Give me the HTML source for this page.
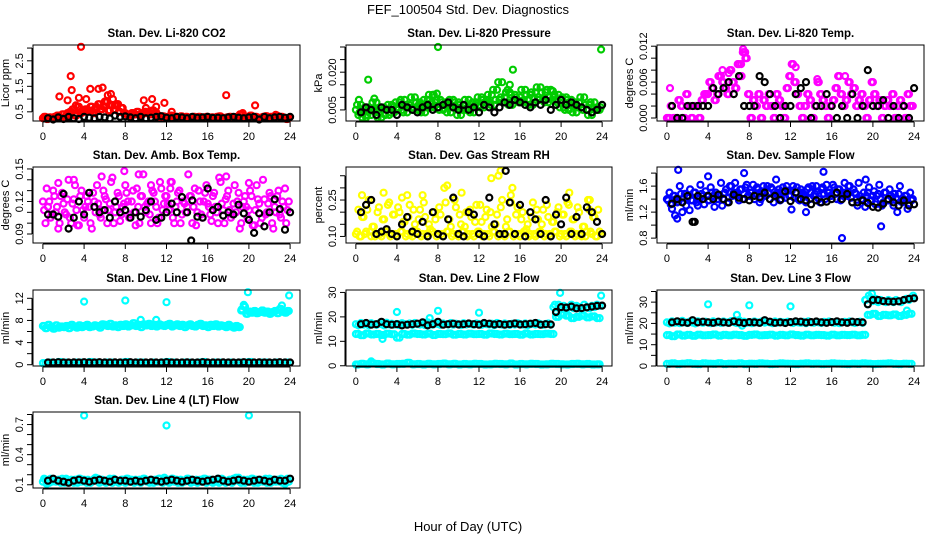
<!DOCTYPE html>
<html><head><meta charset="utf-8">
<style>
html,body{margin:0;padding:0;background:#fff;}
svg{display:block;font-family:"Liberation Sans",sans-serif;}
</style></head>
<body>
<svg id="chart" width="936" height="540" viewBox="0 0 936 540">
<text x="468" y="14" font-size="13" text-anchor="middle">FEF_100504  Std. Dev. Diagnostics</text>
<text x="468" y="531" font-size="13" text-anchor="middle">Hour of Day (UTC)</text>
</svg>
<script>
// ---- data ----
const xTicks = [0,4,8,12,16,20,24];
const co2Red = [0.25,0.3,0.22,0.28,0.26,0.3,0.35,0.28,0.4,0.3,0.45,0.5,0.6,0.35,0.7,0.45,0.5,0.6,0.55,0.7,0.45,0.65,0.8,0.6,0.7,0.9,0.55,0.75,0.6,0.8,0.5,0.65,0.45,0.4,0.35,0.45,0.4,0.5,0.38,0.42,0.5,0.45,0.4,0.55,0.48,0.35,0.3,0.32,0.28,0.3,0.35,0.25,0.3,0.28,0.32,0.26,0.3,0.25,0.28,0.3,0.27,0.3,0.26,0.28,0.3,0.25,0.28,0.26,0.3,0.32,0.27,0.25,0.28,0.3,0.26,0.29,0.31,0.4,0.28,0.3,0.26,0.35,0.28,0.3,0.25,0.27,0.3,0.33,0.28,0.3,0.26,0.35,0.28,0.3,0.25,0.22];
const co2OutHours = [1.6,2.4,2.7,2.8,3.2,3.5,3.7,4.2,4.6,5.4,5.8,6.3,6.6,6.8,7.3,9.8,10.0,10.6,11.0,11.8,12.5,17.8,19.4,20.6,22.6,5.0,5.2,6.0,7.0,4.8];
const co2OutVals = [1.1,0.95,1.9,1.35,0.75,1.05,3.05,1.0,1.4,1.4,1.45,1.15,1.2,1.0,0.8,0.95,0.65,1.0,0.7,0.85,0.5,1.15,0.45,0.75,0.38,0.6,0.7,0.9,0.75,0.55];
const co2Black = [0.25,0.2,0.28,0.22,0.3,0.25,0.22,0.3,0.27,0.25,0.3,0.28,0.24,0.35,0.3,0.32,0.28,0.25,0.3,0.25,0.27,0.3,0.33,0.27,0.25,0.3,0.28,0.25,0.3,0.27,0.28,0.3,0.26,0.27,0.25,0.28,0.3,0.27,0.25,0.28,0.3,0.2,0.3,0.25,0.28,0.3,0.27,0.3];

const pressPa = [5,3,7,4,2,6,3,5,8,4,2,6,5,3,7,4,6,8,5,9,4,7,6,10,5,8,7,4,9,6,11,8,6,9,5,8,7,4,9,6,8,3,7,5,9,6,4,8,7,10,6,9,8,11,7,13,9,16,10,8,12,7,11,9,10,8,13,9,11,7,12,10,14,9,12,8,13,10,9,11,8,6,10,5,9,7,4,8,6,10,5,7,3,8,6,5];
const pressOutHours = [1.2,8.0,15.3,23.9,15.0,0.3,1.8,7.6,7.9,14.8,18.5,19.2];
const pressOutPa = [17,30,21,29,15,9,9.5,11,11.5,13,12,12.5];
const pressBlackPa = [4,6,5,3,6,5,5,3,7,6,5,4,6,7,5,6,7,8,6,5,7,5,6,4,7,6,4,6,8,7,9,8,7,6,8,7,9,5,7,9,7,8,7,6,5,4,5,7];

const tempMilli = [0,0,2,0,0,3,2,0,4,2,0,2,2,0,3,4,4,6,5,3,4,7,6,5,4,8,6,5,9,7,11,10,4,0,3,2,4,0,3,2,4,2,0,4,3,2,0,5,7,9,6,4,2,0,2,4,3,0,2,6,4,3,2,0,2,3,5,7,4,2,3,6,4,5,2,3,4,2,0,3,6,4,2,3,0,2,3,2,4,0,2,3,2,0,4,2];
const tempOutHours = [0.3,5.4,7.4,7.6,12.5,17.3,14.6,5.0,6.0,7.2];
const tempOutMilli = [5,8,11.5,11,8.5,7,6.5,7,7.5,9];
const tempBlackMilli = [2,0,0,2,2,2,2,2,5,4,5,6,4,7,2,2,2,7,6,4,2,0,2,2,4,5,6,0,2,2,4,2,0,2,0,4,0,2,8,2,2,3,0,2,0,2,0,5];

const ambMilli = [120,100,115,105,130,110,95,125,118,108,140,100,122,112,98,130,105,125,115,95,120,135,108,112,125,100,118,142,110,128,102,115,135,120,108,130,98,115,125,145,110,120,100,128,115,105,132,118,125,112,138,100,120,130,108,118,115,125,100,132,110,120,105,128,118,108,125,115,100,138,112,122,130,105,118,110,128,100,120,115,112,125,98,135,118,105,122,110,128,100,115,125,108,120,132,112];
const ambOutHours = [3.0,5.7,7.9,9.3,12.4,17.8,1.5,10.5,20.0];
const ambOutMilli = [140,143,148,145,138,143,137,135,137];
const ambBlackMilli = [108,108,106,127,95,105,120,108,128,115,110,112,105,120,110,112,105,110,106,112,120,103,105,110,118,110,124,110,121,106,105,132,112,115,107,110,108,117,109,103,91,109,97,110,122,113,94,110];

const rhPct = [11,21,10,18,12,25,10,14,11,22,10,17,12,24,11,19,10,20,12,16,11,23,10,15,12,21,11,18,10,13,12,17,11,19,10,24,12,14,11,22,10,15,12,20,11,18,10,23,12,16,11,21,10,14,12,19,11,25,10,17,12,30,11,22,10,20,12,15,11,24,10,17,12,21,11,18,10,16,12,22,11,19,10,23,12,17,11,20,10,14,12,21,11,18,10,12];
const rhOutHours = [0.6,2.7,4.5,5.0,6.5,8.9,10.3,13.2,13.9,14.1,15.1,20.8,22.8,3.3,17.5];
const rhOutPct = [27,28,26,27,27,31,28,34,35,37,27,28,25,11,11];
const rhBlackPct = [20,23,25,11,12,13,11,10,15,18,12,11,16,10,20,11,10,17,26,11,10,20,19,11,10,26,15,11,11,24,11,23,10,20,17,11,25,10,19,15,26,11,18,11,22,20,16,11];

const flowCenti = [140,150,125,145,135,160,120,148,142,155,138,150,130,162,145,152,138,158,145,150,140,165,148,155,142,160,150,145,138,155,148,162,145,150,140,158,135,152,148,160,140,155,145,150,138,158,142,153,145,160,150,140,155,148,135,158,150,145,160,140,155,148,162,150,145,158,140,155,150,165,145,160,135,150,130,145,140,128,150,138,145,132,148,140,135,150,138,145,130,142,148,136,140,145,132,138];
const flowOutHours = [1.1,1.0,0.8,7.5,15.2,17.0,20.8,19.3,12.1,13.5,2.2,4.0,10.6];
const flowOutCenti = [185,110,115,180,182,80,98,170,124,120,123,175,170];
const flowBlackCenti = [133,140,135,145,105,145,140,145,140,147,140,135,147,142,140,138,145,143,150,140,145,139,152,137,150,140,138,132,138,135,136,140,150,140,148,135,135,138,134,128,127,133,140,135,130,138,130,132];

const line1Main = [7.0,6.6,7.2,6.8,6.5,7.1,6.7,6.9,6.8,7.0,6.6,7.2,6.9,6.7,7.1,6.8,7.0,7.2,6.8,6.9,7.1,7.0,6.7,7.3,7.2,7.0,7.4,6.9,7.1,6.8,7.2,7.0,7.3,6.9,7.1,7.5,7.0,7.2,6.8,7.3,7.1,7.4,7.0,7.2,6.9,7.3,7.1,7.0,7.2,7.4,6.9,7.1,7.3,7.0,7.2,6.8,7.1,7.3,7.0,6.9,7.2,7.4,7.0,7.1,6.8,7.2,7.0,7.3,6.9,7.1,7.0,6.8,7.2,6.9,6.7,7.0,6.8,9.8,10.5,9.2,9.6,9.4,9.7,9.3,9.5,9.8,9.4,9.6,9.2,9.5,9.7,9.3,10.1,9.6,9.4,9.7];
const line1Low = [0.3,0.4,0.3,0.5,0.4,0.3,0.4,0.4,0.3,0.5,0.4,0.3,0.4,0.4,0.3,0.4,0.5,0.3,0.4,0.4,0.3,0.4,0.3,0.4,0.5,0.4,0.3,0.4,0.4,0.3,0.4,0.5,0.3,0.4,0.4,0.3,0.4,0.3,0.4,0.4,0.5,0.3,0.4,0.4,0.3,0.4,0.3,0.4];
const line1OutHours = [4.0,8.0,12.0,19.9,23.9,19.5,19.3,23.2,9.5,11.0];
const line1OutVals = [11.4,11.6,11.3,13.1,12.5,10.8,10.0,10.7,8.1,8.1];
const line1Black = [0.4,0.4,0.45,0.4,0.4,0.42,0.4,0.45,0.4,0.4,0.45,0.4,0.4,0.42,0.4,0.4,0.45,0.4,0.4,0.4,0.42,0.4,0.4,0.45,0.4,0.4,0.4,0.42,0.4,0.4,0.45,0.4,0.4,0.4,0.42,0.4,0.4,0.4,0.45,0.4,0.4,0.42,0.4,0.4,0.4,0.45,0.4,0.4];

const line2High = [17,16.5,17.5,16.8,17.2,16.6,17.4,17,16.7,17.3,17,16.5,17.6,16.9,17.2,16.8,17.1,16.6,17.4,17,16.8,17.3,16.7,17.5,17,16.9,17.2,16.6,17.8,17,16.8,17.4,17.1,16.7,17.3,17,16.9,17.5,16.8,17.2,17,16.6,17.4,16.9,17.2,17,16.8,17.3,17.1,16.7,17.4,17,16.9,17.2,16.6,17.5,17,16.8,17.3,17,16.7,17.2,16.9,17.4,17.1,16.8,17.3,16.6,17,17.2,16.9,17.4,17,16.7,17.1,17.3,16.8,24,22,25,23.5,24.5,23,24,25,23.5,24.5,24,23,25,24,23.5,24.5,24,25,24.5];
const line2Mid = [13,12.5,13.2,12.8,13,12.6,13.1,12.9,11.5,13,12.7,13.2,13,12.8,13.1,12.6,13,12.9,13.2,12.7,13,12.8,13.1,12.9,13,12.7,13.2,13,12.8,13.1,12.9,13,12.7,13.2,12.8,13,12.9,13.1,13,20,21,20.5,19.5,20,20.5,19.8,20.2,19.5];
const line2Low = [0.5,0.8,0.6,1.0,0.7,0.5,0.9,0.6,0.7,0.8,1.2,0.6,0.7,0.5,0.8,0.6,0.7,0.9,0.6,0.8,0.5,0.7,0.6,0.8,0.7,0.5,0.6,0.8,0.7,0.6,0.9,0.5,0.7,0.6,0.8,0.7,0.5,0.6,0.8,0.7,0.6,0.5,0.7,0.8,0.6,0.7,0.5,0.6];
const line2OutHours = [4.0,8.0,12.0,19.9,23.9,7.2,2.6,19.5,1.5,19.4];
const line2OutVals = [22,22.5,21.7,29.8,28.7,19.5,11,21.5,1.8,25];
const line2Black = [17,17.5,16.8,17,18,17,16.8,17,16.5,16.8,17,17.2,17.8,16.5,17,18,16.8,17,17.2,16.9,17,17.3,17,16.8,17.5,17.2,16.9,17.1,16.8,17,17.3,16.9,17,17.2,17.5,16.8,17,16.9,22,24,23.8,24.2,23.5,23.6,23.9,24.2,24.5,24.6];

const line3High = [20.5,20,21,20.3,20.8,20.1,21.2,20.5,20.2,20.9,20.4,20,21,20.6,20.3,20.8,20.5,20.1,21,20.4,20.7,20.2,20.9,20.5,20.3,21.1,20.6,20.2,21.5,20.4,20.8,20.3,20.6,20.1,20.9,20.5,20.3,21,20.4,20.7,20.5,20.1,20.9,20.4,20.7,20.5,20.3,20.8,20.6,20.2,20.9,20.5,20.3,20.7,20.1,21,20.5,20.3,20.8,20.5,20.2,20.7,20.4,20.9,20.6,20.3,20.8,20.1,20.5,20.7,20.4,20.9,20.5,20.2,20.6,20.8,20.3,31,29,32,30.5,31.5,30,31,30.5,30,31,30.5,30,31,30.5,30,31,31.5,31,32];
const line3Mid = [14.5,14,14.8,14.3,14.6,14.2,14.7,14.4,14.5,14.8,14.3,14.6,14.4,14.7,14.5,14.2,14.6,14.8,14.4,14.5,14.7,14.3,14.6,14.4,14.8,14.5,14.3,14.7,14.4,14.6,14.5,14.3,14.7,14.4,14.6,14.5,14.7,14.4,14.6,24,24.5,23.5,24,23.8,24.2,23.5,24,24.5];
const line3Low = [1.0,1.2,0.9,1.1,1.3,1.0,0.9,1.2,1.1,1.0,1.3,0.9,1.1,1.0,1.2,0.9,1.1,1.0,1.2,1.1,0.9,1.0,1.2,1.1,1.0,0.9,1.1,1.2,1.0,1.1,0.9,1.0,1.2,1.1,1.0,0.9,1.1,1.0,1.2,1.1,0.9,1.0,1.1,1.2,1.0,0.9,1.1,1.0];
const line3OutHours = [4.0,8.0,12.0,19.9,23.9,6.8,7.3,19.3,19.6,23.3];
const line3OutVals = [29,28.5,28,34,33,24,19,31,33,26];
const line3Black = [20.5,21,20.5,20.3,21.5,20.5,20.8,20.5,20.3,20.8,20.5,20.3,21,20.5,20.2,20.6,20.5,20.3,21.5,20.8,20.3,20.5,20.2,20.6,21,20.8,20.4,20.6,20.9,20.5,20.3,20.6,21,20.5,20.3,20.8,20.6,20.5,29,31,31,30.5,30.3,30.2,30.4,31,31.5,31.8];

const line4Centi = [13,15,12,16,14,13,15,12,14,16,13,15,12,14,16,13,15,12,14,13,16,14,12,15,13,14,16,12,15,13,14,15,12,16,13,14,15,13,12,16,14,13,15,12,14,16,13,15,14,12,16,13,15,14,12,13,16,14,15,13,12,15,14,16,13,15,12,14,16,13,15,12,14,13,16,17,14,12,15,13,14,16,12,15,13,14,15,12,16,13,14,15,13,12,11,16];
const line4OutHours = [4.0,12.0,20.0,11.8,19.0];
const line4OutCenti = [79,69,79,17,17];
const line4BlackCenti = [14,16,14,13,12,14,15,14,13,14,15,14,13,15,14,14,13,14,13,14,15,14,13,14,15,14,13,14,15,14,13,14,15,16,14,13,14,15,14,13,14,15,14,13,15,14,14,16];

// ---- layout ----
const colBox = [[33,300],[346,612],[657,924]];
const rowTop = [45,167,290,412];
const boxH = 76;
const NS = 'http://www.w3.org/2000/svg';
const svg = document.getElementById('chart');
function mk(tag, attrs, parent){const e=document.createElementNS(NS,tag);for(const k in attrs)e.setAttribute(k,attrs[k]);(parent||svg).appendChild(e);return e;}
function reg(n, step, start){const a=[];for(let i=0;i<n;i++)a.push(start+i*step);return a;}
const scaleK = v => v.map(x=>x/1000);
const scaleC = v => v.map(x=>x/100);

const RED='#ff0000',GRN='#00cc00',MAG='#ff00ff',YEL='#ffff00',BLU='#0000ff',CYN='#00ffff',BLK='#000000';

const panels = [
 {name:'co2',col:0,row:0,title:'Stan. Dev. Li-820 CO2',ylab:'Licor ppm',ylim:[0.14,3.12],ticks:[0.5,1,1.5,2,2.5,3],labels:[[0.5,'0.5'],[1.5,'1.5'],[2.5,'2.5']],
  series:[[reg(96,0.25,0),co2Red,RED],[reg(96,0.25,0.12),co2Red.slice(1).concat([0.25]),RED],[co2OutHours,co2OutVals,RED],[reg(48,0.5,0.5),co2Black,BLK]]},
 {name:'pressure',col:1,row:0,title:'Stan. Dev. Li-820 Pressure',ylab:'kPa',ylim:[0.0006,0.0308],ticks:[0.005,0.01,0.015,0.02,0.025,0.03],labels:[[0.005,'0.005'],[0.02,'0.020']],
  series:[[reg(96,0.25,0),scaleK(pressPa),GRN],[reg(96,0.25,0.12),scaleK(pressPa.slice(2).concat([5,6])),GRN],[pressOutHours,scaleK(pressOutPa),GRN],[reg(48,0.5,0.5),scaleK(pressBlackPa),BLK]]},
 {name:'temp',col:2,row:0,title:'Stan. Dev. Li-820 Temp.',ylab:'degrees C',ylim:[-0.0005,0.0122],ticks:[0,0.002,0.004,0.006,0.008,0.01,0.012],labels:[[0,'0.000'],[0.006,'0.006'],[0.012,'0.012']],
  series:[[reg(96,0.25,0),scaleK(tempMilli),MAG],[reg(96,0.25,0.12),scaleK(tempMilli.slice(1).concat([2])),MAG],[tempOutHours,scaleK(tempOutMilli),MAG],[reg(48,0.5,0.5),scaleK(tempBlackMilli),BLK]]},
 {name:'amb-temp',col:0,row:1,title:'Stan. Dev. Amb. Box Temp.',ylab:'degrees C',ylim:[0.0817,0.1518],ticks:[0.09,0.1,0.11,0.12,0.13,0.14,0.15],labels:[[0.09,'0.09'],[0.12,'0.12'],[0.15,'0.15']],
  series:[[reg(96,0.25,0),scaleK(ambMilli),MAG],[reg(96,0.25,0.12),scaleK(ambMilli.slice().reverse()),MAG],[ambOutHours,scaleK(ambOutMilli),MAG],[reg(48,0.5,0.5),scaleK(ambBlackMilli),BLK],[[14.4],[0.084],BLK]]},
 {name:'rh',col:1,row:1,title:'Stan. Dev. Gas Stream RH',ylab:'percent',ylim:[0.073,0.386],ticks:[0.1,0.15,0.2,0.25,0.3,0.35],labels:[[0.1,'0.10'],[0.25,'0.25']],
  series:[[reg(96,0.25,0),scaleC(rhPct),YEL],[reg(96,0.25,0.12),scaleC(rhPct.slice().reverse()),YEL],[rhOutHours,scaleC(rhOutPct),YEL],[reg(48,0.5,0.5),scaleC(rhBlackPct),BLK],[[14.6],[0.37],BLK]]},
 {name:'sample-flow',col:2,row:1,title:'Stan. Dev. Sample Flow',ylab:'ml/min',ylim:[0.725,1.894],ticks:[0.8,1,1.2,1.4,1.6,1.8],labels:[[0.8,'0.8'],[1.2,'1.2'],[1.6,'1.6']],
  series:[[reg(96,0.25,0),scaleC(flowCenti),BLU],[reg(96,0.25,0.12),scaleC(flowCenti.slice().reverse()),BLU],[flowOutHours,scaleC(flowOutCenti),BLU],[reg(48,0.5,0.5),scaleC(flowBlackCenti),BLK],[[2.7],[1.05],BLK]]},
 {name:'line1',col:0,row:2,title:'Stan. Dev. Line 1 Flow',ylab:'ml/min',ylim:[-0.23,13.5],ticks:[0,2,4,6,8,10,12],labels:[[0,'0'],[4,'4'],[8,'8'],[12,'12']],
  series:[[reg(96,0.25,0),line1Main,CYN],[reg(96,0.25,0.12),line1Main,CYN],[reg(48,0.5,0),line1Low,CYN],[reg(48,0.5,0.25),line1Low,CYN],[line1OutHours,line1OutVals,CYN],[reg(48,0.5,0.5),line1Black,BLK]]},
 {name:'line2',col:1,row:2,title:'Stan. Dev. Line 2 Flow',ylab:'ml/min',ylim:[-0.1,31],ticks:[0,10,20,30],labels:[[0,'0'],[10,'10'],[20,'20'],[30,'30']],
  series:[[reg(96,0.25,0),line2High,CYN],[reg(48,0.5,0),line2Mid,CYN],[reg(48,0.5,0.25),line2Mid,CYN],[reg(48,0.5,0),line2Low,CYN],[reg(48,0.5,0.25),line2Low,CYN],[reg(48,0.5,0.12),line2Low,CYN],[line2OutHours,line2OutVals,CYN],[reg(48,0.5,0.5),line2Black,BLK]]},
 {name:'line3',col:2,row:2,title:'Stan. Dev. Line 3 Flow',ylab:'ml/min',ylim:[0,35.7],ticks:[0,5,10,15,20,25,30,35],labels:[[0,'0'],[10,'10'],[20,'20'],[30,'30']],
  series:[[reg(96,0.25,0),line3High,CYN],[reg(48,0.5,0),line3Mid,CYN],[reg(48,0.5,0.25),line3Mid,CYN],[reg(48,0.5,0),line3Low,CYN],[reg(48,0.5,0.25),line3Low,CYN],[line3OutHours,line3OutVals,CYN],[reg(48,0.5,0.5),line3Black,BLK]]},
 {name:'line4',col:0,row:3,title:'Stan. Dev. Line 4 (LT) Flow',ylab:'ml/min',ylim:[0.0677,0.825],ticks:[0.1,0.2,0.3,0.4,0.5,0.6,0.7,0.8],labels:[[0.1,'0.1'],[0.4,'0.4'],[0.7,'0.7']],
  series:[[reg(96,0.25,0),scaleC(line4Centi),CYN],[reg(96,0.25,0.12),scaleC(line4Centi.slice().reverse()),CYN],[line4OutHours,scaleC(line4OutCenti),CYN],[reg(48,0.5,0.5),scaleC(line4BlackCenti),BLK]]}
];

panels.forEach(p=>{
  const [L,R]=colBox[p.col], T=rowTop[p.row], B=T+boxH;
  const xs = h => L + (h+0.96)/25.92*(R-L);
  const ys = v => B - (v-p.ylim[0])/(p.ylim[1]-p.ylim[0])*boxH;
  const g = mk('g',{});
  
  
  const t = mk('text',{x:(L+R)/2,y:T-8,'font-size':11.5,'font-weight':'bold','text-anchor':'middle'},g);
  t.textContent=p.title;
  
  
  const pts = mk('g',{fill:'none','stroke-width':2.2},g);
  
  
  p.series.forEach(s=>{
    const [hx,vals,col]=s;
    vals.forEach((v,i)=>{
      const c=mk('circle',{cx:xs(hx[i]).toFixed(1),cy:ys(v).toFixed(1),r:3,stroke:col},pts);
      
      
    });
  });
  const box=mk('rect',{x:L,y:T,width:R-L,height:boxH,fill:'none',stroke:'#000','stroke-width':1},g);
  
  
  const xa=mk('g',{},g);
  
  
  mk('line',{x1:xs(0),x2:xs(24),y1:B+1,y2:B+1,stroke:'#000'},xa);
  xTicks.forEach(h=>{
    mk('line',{x1:xs(h),x2:xs(h),y1:B+1,y2:B+6,stroke:'#000'},xa);
    const tl=mk('text',{x:xs(h),y:B+19,'font-size':11,'text-anchor':'middle'},xa);
    tl.textContent=h;
    
    
  });
  const ya=mk('g',{},g);
  
  
  const tk=p.ticks;
  mk('line',{x1:L-1,x2:L-1,y1:ys(tk[0]),y2:ys(tk[tk.length-1]),stroke:'#000'},ya);
  tk.forEach(v=>mk('line',{x1:L-6,x2:L-1,y1:ys(v),y2:ys(v),stroke:'#000'},ya));
  p.labels.forEach(([v,s])=>{
    const x=L-10,y=ys(v);
    const tl=mk('text',{x:x,y:y,'font-size':11,'text-anchor':'middle',transform:`rotate(-90 ${x} ${y})`},ya);
    tl.textContent=s;
    
    
  });
  const yx=L-24, yy=(T+B)/2;
  const yl=mk('text',{x:yx,y:yy,'font-size':11,'text-anchor':'middle',transform:`rotate(-90 ${yx} ${yy})`},g);
  yl.textContent=p.ylab;
  
  
});
</script>
</body></html>
